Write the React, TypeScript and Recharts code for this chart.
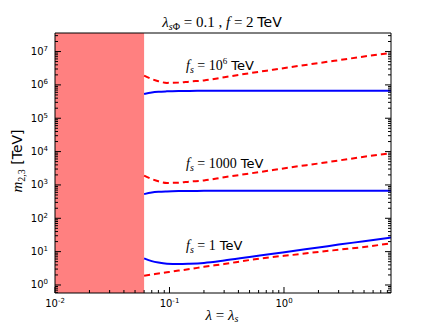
import { ComposedChart, Line, XAxis, YAxis, ReferenceArea } from 'recharts';

// lambda = lambda_s
const lambdaValues = [0.06, 0.07, 0.08, 0.095, 0.12, 0.15, 0.2, 0.3, 0.5, 0.8, 1.2, 2, 3, 5, 8.6];

// m_{2,3} [TeV] for each f_s
const fs1e6Solid = [5.3e5, 5.9e5, 6.2e5, 6.4e5, 6.55e5, 6.6e5, 6.65e5, 6.7e5, 6.7e5, 6.7e5, 6.7e5, 6.7e5, 6.7e5, 6.7e5, 6.7e5];
const fs1e6Dashed = [1.9e6, 1.5e6, 1.29e6, 1.15e6, 1.17e6, 1.26e6, 1.36e6, 1.7e6, 2.24e6, 2.85e6, 3.5e6, 4.5e6, 5.5e6, 7.1e6, 9.1e6];
const fs1000Solid = [530, 590, 620, 640, 655, 660, 665, 670, 670, 670, 670, 670, 670, 670, 670];
const fs1000Dashed = [1900, 1500, 1290, 1150, 1170, 1260, 1360, 1700, 2200, 2800, 3450, 4400, 5400, 7000, 8900];
const fs1Solid = [6.3, 5.2, 4.7, 4.35, 4.25, 4.35, 4.6, 5.4, 6.9, 8.6, 10.5, 13.3, 16.3, 20.5, 26.5];
const fs1Dashed = [1.9, 2.06, 2.2, 2.4, 2.7, 3.0, 3.5, 4.25, 5.6, 6.9, 8.0, 9.8, 11.4, 13.8, 17.8];

const excludedMax = 0.06;

const xDomain: [number, number] = [0.01, 8.6];
const yDomain: [number, number] = [0.575, 3.6e7];
const xMajor = [0.01, 0.1, 1];
const yMajor = [1, 10, 100, 1e3, 1e4, 1e5, 1e6, 1e7];

const minorsOf = (majors: number[], lo: number, hi: number) => {
  const out: number[] = [];
  [majors[0] / 10, ...majors].forEach((m) => {
    for (let k = 1; k < 10; k++) {
      const v = m * k;
      if (v >= lo && v <= hi) out.push(v);
    }
  });
  return out;
};
const xTicks = minorsOf(xMajor, xDomain[0], xDomain[1]);
const yTicks = minorsOf(yMajor, yDomain[0], yDomain[1]);

const data = lambdaValues.map((x, i) => ({
  x,
  a: fs1e6Solid[i],
  b: fs1e6Dashed[i],
  c: fs1000Solid[i],
  d: fs1000Dashed[i],
  e: fs1Solid[i],
  f: fs1Dashed[i],
}));

const isMajor = (v: number) => Math.abs(Math.log10(v) - Math.round(Math.log10(v))) < 1e-6;
const expOf = (v: number) => String(Math.round(Math.log10(v)));

const SANS = 'DejaVu Sans';
const SERIF = 'Liberation Serif';

const Tick = (props: any) => {
  const { x, y, payload, side } = props;
  const v = payload.value;
  const major = isMajor(v);
  const len = major ? 6 : 3;
  let line;
  if (side === 'bottom') line = <line x1={x} x2={x} y1={y} y2={y - len} stroke="#000" />;
  else if (side === 'top') line = <line x1={x} x2={x} y1={y} y2={y + len} stroke="#000" />;
  else if (side === 'left') line = <line x1={x} x2={x + len} y1={y} y2={y} stroke="#000" />;
  else line = <line x1={x} x2={x - len} y1={y} y2={y} stroke="#000" />;
  return (
    <g>
      {line}
      {major && side === 'bottom' && (
        <text x={x} y={y + 14} textAnchor="middle" fontFamily={SANS} fontSize={10} fill="#000">
          10<tspan dy={-4} fontSize={7}>{expOf(v)}</tspan>
        </text>
      )}
      {major && side === 'left' && (
        <text x={x - 7} y={y + 3.5} textAnchor="end" fontFamily={SANS} fontSize={10} fill="#000">
          10<tspan dy={-4} fontSize={7}>{expOf(v)}</tspan>
        </text>
      )}
    </g>
  );
};

const FsLabel = ({ x, y, value, sup }: { x: number; y: number; value: string; sup?: string }) => (
  <text x={x} y={y} fontSize={14} fill="#000">
    <tspan fontFamily={SERIF} fontStyle="italic">f</tspan>
    <tspan fontFamily={SERIF} fontStyle="italic" fontSize={10} dy={3}>s</tspan>
    <tspan fontFamily={SERIF} dy={-3}>{' = ' + value}</tspan>
    {sup && <tspan fontFamily={SERIF} fontSize={9} dy={-6}>{sup}</tspan>}
    <tspan fontFamily={SANS} fontSize={13} dy={sup ? 6 : 0}>{' TeV'}</tspan>
  </text>
);

export default function App() {
  return (
    <div style={{ position: 'absolute', left: 0, top: 0, width: 436, height: 327, background: '#fff' }}>
      <ComposedChart width={436} height={327} data={data} margin={{ top: 0, right: 0, bottom: 0, left: 0 }}>
        <XAxis
          dataKey="x"
          type="number"
          scale="log"
          domain={xDomain}
          allowDataOverflow
          ticks={xTicks}
          interval={0}
          height={34}
          tickSize={0}
          tickMargin={0}
          axisLine={{ stroke: '#000' }}
          tickLine={false}
          tick={(p: any) => <Tick {...p} side="bottom" />}
        />
        <XAxis
          xAxisId="top"
          orientation="top"
          type="number"
          scale="log"
          domain={xDomain}
          allowDataOverflow
          ticks={xTicks}
          interval={0}
          height={33}
          tickSize={0}
          tickMargin={0}
          axisLine={{ stroke: '#000' }}
          tickLine={false}
          tick={(p: any) => <Tick {...p} side="top" />}
        />
        <YAxis
          type="number"
          scale="log"
          domain={yDomain}
          allowDataOverflow
          ticks={yTicks}
          interval={0}
          width={55}
          tickSize={0}
          tickMargin={0}
          axisLine={{ stroke: '#000' }}
          tickLine={false}
          tick={(p: any) => <Tick {...p} side="left" />}
        />
        <YAxis
          yAxisId="right"
          orientation="right"
          type="number"
          scale="log"
          domain={yDomain}
          allowDataOverflow
          ticks={yTicks}
          interval={0}
          width={45}
          tickSize={0}
          tickMargin={0}
          axisLine={{ stroke: '#000' }}
          tickLine={false}
          tick={(p: any) => <Tick {...p} side="right" />}
        />
        <ReferenceArea x1={xDomain[0]} x2={excludedMax} fill="#ff8080" fillOpacity={1} stroke="none" ifOverflow="hidden" />
        <Line dataKey="a" stroke="#0000ff" strokeWidth={2} dot={false} activeDot={false} type="monotone" isAnimationActive={false} />
        <Line dataKey="b" stroke="#ff0000" strokeWidth={2} strokeDasharray="6 4" dot={false} activeDot={false} type="monotone" isAnimationActive={false} />
        <Line dataKey="c" stroke="#0000ff" strokeWidth={2} dot={false} activeDot={false} type="monotone" isAnimationActive={false} />
        <Line dataKey="d" stroke="#ff0000" strokeWidth={2} strokeDasharray="6 4" dot={false} activeDot={false} type="monotone" isAnimationActive={false} />
        <Line dataKey="e" stroke="#0000ff" strokeWidth={2} dot={false} activeDot={false} type="monotone" isAnimationActive={false} />
        <Line dataKey="f" stroke="#ff0000" strokeWidth={2} strokeDasharray="6 4" dot={false} activeDot={false} type="monotone" isAnimationActive={false} />
      </ComposedChart>
      <svg width={436} height={327} style={{ position: 'absolute', left: 0, top: 0, pointerEvents: 'none' }}>
        <text x={222} y={27} textAnchor="middle" fontSize={15} fill="#000">
          <tspan fontFamily={SERIF} fontStyle="italic">λ</tspan>
          <tspan fontFamily={SERIF} fontStyle="italic" fontSize={10} dy={3}>s</tspan>
          <tspan fontFamily={SERIF} fontSize={10}>Φ</tspan>
          <tspan fontFamily={SERIF} dy={-3}>{' = 0.1 , '}</tspan>
          <tspan fontFamily={SERIF} fontStyle="italic">f</tspan>
          <tspan fontFamily={SERIF}>{' = 2 '}</tspan>
          <tspan fontFamily={SANS} fontSize={14}>TeV</tspan>
        </text>
        <text x={222} y={320} textAnchor="middle" fontSize={15} fill="#000">
          <tspan fontFamily={SERIF} fontStyle="italic">λ</tspan>
          <tspan fontFamily={SERIF}>{' = '}</tspan>
          <tspan fontFamily={SERIF} fontStyle="italic">λ</tspan>
          <tspan fontFamily={SERIF} fontStyle="italic" fontSize={10} dy={2}>s</tspan>
        </text>
        <text transform="translate(22,161) rotate(-90)" textAnchor="middle" fontSize={15} fill="#000">
          <tspan fontFamily={SERIF} fontStyle="italic">m</tspan>
          <tspan fontFamily={SERIF} fontSize={10} dy={3}>2,3</tspan>
          <tspan fontFamily={SANS} fontSize={14} dy={-3}>{' [TeV]'}</tspan>
        </text>
        <FsLabel x={186} y={70} value="10" sup="6" />
        <FsLabel x={186} y={168} value="1000" />
        <FsLabel x={186} y={250} value="1" />
      </svg>
    </div>
  );
}
